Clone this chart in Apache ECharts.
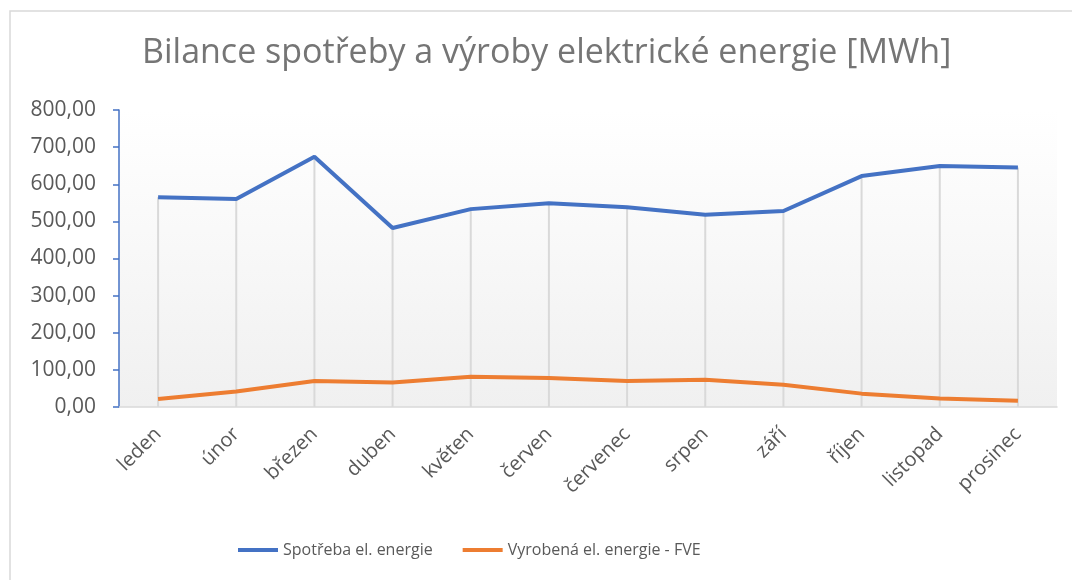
<!DOCTYPE html>
<html><head><meta charset="utf-8">
<script src="https://cdn.jsdelivr.net/npm/echarts@6/dist/echarts.min.js"></script>
<style>html,body{margin:0;padding:0;background:#fff}#c{width:1072px;height:580px}</style>
</head><body><div id="c"></div>
<script>
const months = ['leden','únor','březen','duben','květen','červen','červenec','srpen','září','říjen','listopad','prosinec'];
const spotreba = [565, 560, 674, 482, 533, 549, 538, 518, 528, 622, 649, 645];
const vyroba = [21.5, 42, 70, 66, 81.5, 78, 70, 73.5, 60, 36, 23, 17];
const seriesNames = ['Spotřeba el. energie', 'Vyrobená el. energie - FVE'];
const titleText = 'Bilance spotřeby a výroby elektrické energie [MWh]';

const FONT = 'Open Sans';
const chart = echarts.init(document.getElementById('c'));
chart.setOption({
  animation: false,
  backgroundColor: '#fff',
  graphic: [{type:'rect', shape:{x:10,y:11,width:1080,height:600}, style:{fill:'none', stroke:'#d9d9d9', lineWidth:1.5}, z:-1}],
  title: {text: titleText, left: 137, top: 31, textStyle:{fontFamily:FONT, fontSize:34, fontWeight:'normal', color:'#757575'}},
  legend: {data: seriesNames, left: 233, top: 537, icon: 'rect', itemWidth: 40, itemHeight: 4, itemGap: 30, itemStyle:{borderWidth:0},
    textStyle:{fontFamily:FONT, fontSize:16, color:'#595959'}},
  grid: {left: 119, right: 15, top: 110, bottom: 173,
    show: true, borderWidth: 0,
    backgroundColor: {type:'linear', x:0, y:0, x2:0, y2:1, colorStops:[{offset:0,color:'#ffffff'},{offset:1,color:'#f0f0f0'}]}},
  xAxis: {type:'category', data: months, boundaryGap: true,
    axisLine:{lineStyle:{color:'#d9d9d9', width:1.5}}, axisTick:{show:false},
    axisLabel:{rotate:45, margin:24, fontFamily:FONT, fontSize:20, color:'#595959'}},
  yAxis: {type:'value', min:0, max:800, interval:100,
    axisLine:{show:true, lineStyle:{color:'#4472c4', width:1.5}},
    axisTick:{show:true, length:6, lineStyle:{color:'#4472c4', width:1.5}},
    splitLine:{show:false},
    axisLabel:{margin:23, fontFamily:FONT, fontSize:21, color:'#595959', formatter: v => v.toFixed(2).replace('.', ',')}},
  series: [
    {name:'drop', type:'bar', data: spotreba, barWidth: 2, itemStyle:{color:'#d9d9d9'}, z:1, silent:true},
    {name: seriesNames[0], type:'line', data: spotreba, symbol:'none', lineStyle:{color:'#4472c4', width:4}, itemStyle:{color:'#4472c4'}, z:3},
    {name: seriesNames[1], type:'line', data: vyroba, symbol:'none', lineStyle:{color:'#ed7d31', width:4}, itemStyle:{color:'#ed7d31'}, z:3}
  ]
});
</script></body></html>
